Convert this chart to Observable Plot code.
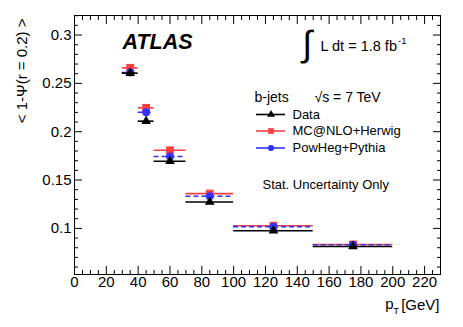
<!DOCTYPE html>
<html><head><meta charset="utf-8">
<script src="https://cdn.jsdelivr.net/npm/d3@7"></script>
<script src="https://cdn.jsdelivr.net/npm/@observablehq/plot@0.6"></script>
<style>
body{margin:0;background:#fff}
svg{font-family:"Liberation Sans",Arial,Helvetica,sans-serif}
</style>
</head><body><div id="chart"></div>
<script>
// bins (pT in GeV)
const binLo = [30, 40, 50, 70, 100, 150];
const binHi = [40, 50, 70, 100, 150, 200];
const binCenter = [35, 45, 60, 85, 125, 175];
// < 1 - Psi(r = 0.2) >
const dataVals   = [0.2606, 0.2109, 0.1694, 0.1273, 0.0976, 0.0813];
const mcnloVals  = [0.2661, 0.2247, 0.1808, 0.1360, 0.1028, 0.0834];
const powhegVals = [0.2613, 0.2202, 0.1743, 0.1332, 0.1018, 0.0831];
const seriesNames = ["Data", "MC@NLO+Herwig", "PowHeg+Pythia"];
// axis ticks
const xMajor = [0, 20, 40, 60, 80, 100, 120, 140, 160, 180, 200, 220];
const xMinor = d3.range(0, 231, 5).filter(v => v % 20 !== 0);
const yMajor = [0.1, 0.15, 0.2, 0.25, 0.3];
const yMinor = d3.range(6, 33).map(v => v / 100).filter(v => !yMajor.some(m => Math.abs(m - v) < 1e-9));

const W = 463, H = 327;
const mL = 74, mR = 23, mT = 15, mB = 53;
const xDomain = [0, 230], yDomain = [0.0523, 0.3202];
const xs = d3.scaleLinear(xDomain, [mL, W - mR]);
const ys = d3.scaleLinear(yDomain, [H - mB, mT]);

const mk = vals => vals.map((v, i) => ({x: binCenter[i], lo: binLo[i], hi: binHi[i], v}));
const dataRows = mk(dataVals), mcRows = mk(mcnloVals), phRows = mk(powhegVals);

const RED = "#ff4040", BLUE = "#3434ff", BLACK = "#000";
const FS = 15;

// legend positions (pixel -> data via scale inversion)
const legRows = [
  {name: seriesNames[0], py: 114, color: BLACK, sym: "triangle", dash: null},
  {name: seriesNames[1], py: 130.5, color: RED, sym: "square", dash: null},
  {name: seriesNames[2], py: 147.5, color: BLUE, sym: "circle", dash: "5,3"}
].map(d => ({...d, y: ys.invert(d.py), x1: xs.invert(256), x2: xs.invert(285), xm: xs.invert(270.5), xt: xs.invert(292)}));

const tickAxis = (axis, anchor, ticks, size) =>
  axis({anchor, ticks, tickSize: -size, fill: "none", label: null, stroke: "#000", strokeWidth: 1});

const chart = Plot.plot({
  width: W, height: H,
  marginLeft: mL, marginRight: mR, marginTop: mT, marginBottom: mB,
  style: {fontSize: FS + "px", fontFamily: "Liberation Sans, Arial, sans-serif", color: "#000", background: "#fff"},
  x: {domain: xDomain},
  y: {domain: yDomain},
  marks: [
    // inward ticks on all four sides
    tickAxis(Plot.axisX, "bottom", xMajor, 8),
    tickAxis(Plot.axisX, "bottom", xMinor, 4),
    tickAxis(Plot.axisX, "top", xMajor, 8),
    tickAxis(Plot.axisX, "top", xMinor, 4),
    tickAxis(Plot.axisY, "left", yMajor, 8),
    tickAxis(Plot.axisY, "left", yMinor, 4),
    tickAxis(Plot.axisY, "right", yMajor, 8),
    tickAxis(Plot.axisY, "right", yMinor, 4),
    // tick labels
    Plot.axisX({anchor: "bottom", ticks: xMajor, tickSize: 0, tickPadding: 1.5, label: null, fontSize: FS}),
    Plot.axisY({anchor: "left", ticks: yMajor, tickSize: 0, tickPadding: 3, label: null, tickFormat: d => String(+d.toFixed(2)), fontSize: FS}),
    Plot.frame({stroke: "#000", strokeWidth: 1}),

    // MC@NLO+Herwig
    Plot.ruleY(mcRows, {y: "v", x1: "lo", x2: "hi", stroke: RED, strokeWidth: 1.6}),
    Plot.dot(mcRows, {x: "x", y: "v", symbol: "square", r: 4.4, fill: RED, stroke: "none"}),
    // PowHeg+Pythia
    Plot.ruleY(phRows, {y: "v", x1: "lo", x2: "hi", stroke: BLUE, strokeWidth: 1.6, strokeDasharray: "5,3"}),
    Plot.dot(phRows, {x: "x", y: "v", symbol: "circle", r: 4, fill: BLUE, stroke: "none"}),
    // Data
    Plot.ruleY(dataRows, {y: "v", x1: "lo", x2: "hi", stroke: BLACK, strokeWidth: 1.6}),
    Plot.dot(dataRows, {x: "x", y: "v", symbol: "triangle", r: 3.6, fill: BLACK, stroke: "none"}),

    // legend
    Plot.ruleY(legRows, {y: "y", x1: "x1", x2: "x2", stroke: "color", strokeWidth: 1.6, strokeDasharray: d => d.dash}),
    Plot.dot(legRows, {x: "xm", y: "y", symbol: "sym", r: d => d.sym === "triangle" ? 3.6 : d.sym === "square" ? 4.4 : 4, fill: "color", stroke: "none"}),
    Plot.text(legRows, {x: "xt", y: "y", text: "name", textAnchor: "start", lineAnchor: "middle", fontSize: 13}),

    // annotations
    Plot.text(["ATLAS"], {frameAnchor: "top-left", dx: 122 - mL, dy: 41.5 - mT, textAnchor: "start", lineAnchor: "middle", fontSize: 21.5, fontWeight: "bold", fontStyle: "italic"}),
    Plot.text(["\u222B"], {frameAnchor: "top-left", dx: 302 - mL, dy: 44 - mT, textAnchor: "start", lineAnchor: "middle", fontSize: 36}),
    Plot.text(["L dt = 1.8 fb"], {frameAnchor: "top-left", dx: 320 - mL, dy: 45.5 - mT, textAnchor: "start", lineAnchor: "middle", fontSize: 14.5}),
    Plot.text(["-1"], {frameAnchor: "top-left", dx: 397.5 - mL, dy: 40 - mT, textAnchor: "start", lineAnchor: "middle", fontSize: 9.5}),
    Plot.text(["b-jets"], {frameAnchor: "top-left", dx: 254 - mL, dy: 97 - mT, textAnchor: "start", lineAnchor: "middle", fontSize: 14}),
    Plot.text(["\u221As = 7 TeV"], {frameAnchor: "top-left", dx: 314 - mL, dy: 97 - mT, textAnchor: "start", lineAnchor: "middle", fontSize: 14}),
    Plot.text(["Stat. Uncertainty Only"], {frameAnchor: "top-left", dx: 262 - mL, dy: 184 - mT, textAnchor: "start", lineAnchor: "middle", fontSize: 13}),

    // axis titles
    Plot.text(["< 1-\u03A8(r = 0.2) >"], {frameAnchor: "top-left", dx: 22 - mL, dy: 18 - mT, rotate: -90, textAnchor: "end", lineAnchor: "middle", fontSize: 15}),
    Plot.text(["[GeV]"], {frameAnchor: "bottom-right", dx: -1, dy: 305 - (H - mB), textAnchor: "end", lineAnchor: "middle", fontSize: 15}),
    Plot.text(["T"], {frameAnchor: "bottom-right", dx: -(440 - 398.5), dy: 310 - (H - mB), textAnchor: "end", lineAnchor: "middle", fontSize: 9.5}),
    Plot.text(["p"], {frameAnchor: "bottom-right", dx: -(440 - 393), dy: 304 - (H - mB), textAnchor: "end", lineAnchor: "middle", fontSize: 15})
  ]
});
document.getElementById("chart").appendChild(chart);
</script>
</body></html>
